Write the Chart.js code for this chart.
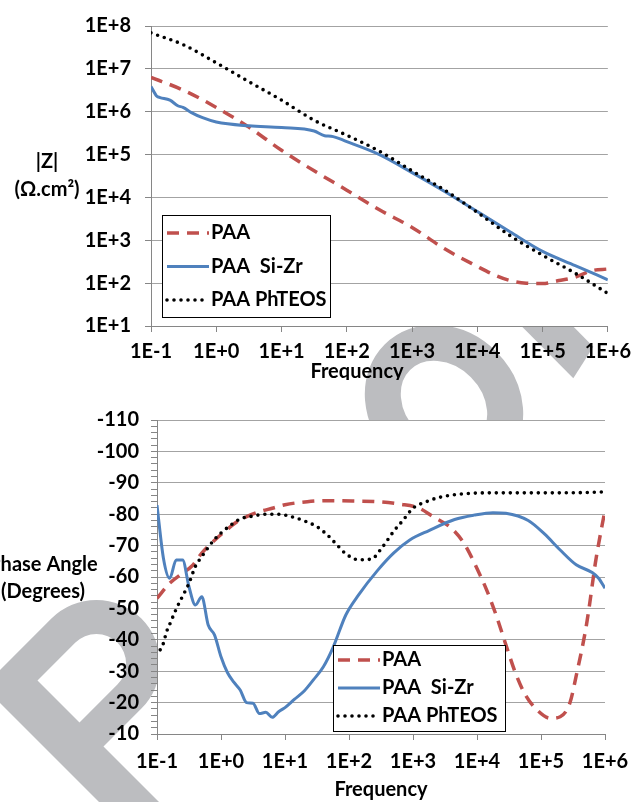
<!DOCTYPE html>
<html>
<head>
<meta charset="utf-8">
<script src="https://cdn.jsdelivr.net/npm/chart.js"></script>
<style>
html, body { margin: 0; padding: 0; background: #fff; }
#page { position: relative; width: 639px; height: 802px; overflow: hidden; }
#mark { position: absolute; left: 0; top: 0; }
#bode { position: absolute; left: 0; top: 0; }
#phase { position: absolute; left: 0; top: 380px; }
</style>
</head>
<body>
<div id="page">
  <svg id="mark" width="639" height="802">
    <g fill="#bcbdc0" fill-rule="evenodd">
      <path d="M -16.5 686.5 L 51.4 618.6 A 63.6 63.6 0 0 1 141.4 618.6 A 63.6 63.6 0 0 1 141.4 708.6 L 103.5 746.5 L 260 903 L 200 903 Z M 37.5 680.5 L 75.4 642.6 A 29.7 29.7 0 0 1 117.4 642.6 A 29.7 29.7 0 0 1 117.4 684.6 L 79.5 722.5 Z"/>
      <path d="M 479.7 284 L 531.3 284 L 593.3 346.7 L 573.3 378.3 Z"/>
    </g>
    <g transform="translate(444 404) rotate(45)">
      <ellipse cx="0" cy="0" rx="66" ry="56" fill="none" stroke="#bcbdc0" stroke-width="36"/>
    </g>
  </svg>
  <canvas id="bode" width="639" height="380"></canvas>
  <canvas id="phase" width="639" height="422"></canvas>
</div>
<script>
// ---- data (frequency in Hz) ----
var freqTicks = [0.1, 1, 10, 100, 1000, 10000, 100000, 1000000];
var freqTickLabels = ['1E-1', '1E+0', '1E+1', '1E+2', '1E+3', '1E+4', '1E+5', '1E+6'];
var zTicks = [10, 100, 1000, 10000, 100000, 1000000, 10000000, 100000000];
var zTickLabels = ['1E+1', '1E+2', '1E+3', '1E+4', '1E+5', '1E+6', '1E+7', '1E+8'];
var phaseTicks = [-110, -100, -90, -80, -70, -60, -50, -40, -30, -20, -10];

// |Z| (ohm.cm2)
var zPaaFreq = [0.1, 0.316, 1, 3.16, 10, 31.6, 100, 316, 1000, 3160, 10000, 17800, 31600, 56200, 100000, 178000, 316000, 562000, 1000000];
var zPaa = [6.31e6, 3.16e6, 1.26e6, 4.37e5, 1.26e5, 4.17e4, 1.48e4, 5130, 2000, 631, 245, 158, 115, 100, 98, 115, 138, 195, 214];

var zSiZrFreq = [0.1, 0.123, 0.138, 0.195, 0.257, 0.309, 0.417, 0.617, 1, 3.16, 10, 31.6, 45.7, 57.5, 100, 316, 1000, 3160, 10000, 31600, 100000, 316000, 1000000];
var zSiZr = [3.89e6, 2.29e6, 2.14e6, 1.86e6, 1.38e6, 1.26e6, 9.55e5, 7.24e5, 5.75e5, 4.68e5, 4.27e5, 3.55e5, 2.75e5, 2.69e5, 2.0e5, 1.0e5, 3.8e4, 1.38e4, 4680, 1580, 550, 257, 120];

var zPhFreq = [0.1, 0.316, 1, 3.16, 10, 31.6, 100, 316, 1000, 3160, 10000, 31600, 100000, 316000, 1000000];
var zPh = [6.92e7, 3.63e7, 1.38e7, 5.01e6, 1.86e6, 6.31e5, 2.82e5, 1.20e5, 4.17e4, 1.48e4, 4470, 1290, 447, 170, 57.5];

// phase angle (degrees)
var pPaaFreq = [0.1, 0.158, 0.251, 0.355, 0.501, 0.794, 1.259, 1.778, 2.512, 3.981, 6.31, 10, 22.39, 44.67, 112.2, 281.8, 631, 1259, 1995, 3981, 6310, 10000, 14125, 19950, 28180, 39810, 56230, 89130, 141300, 199500, 281800, 354800, 501200, 562300, 707900, 794300, 1000000];
var pPaa = [-53.2, -58.0, -61.2, -63.6, -67.6, -71.7, -75.2, -77.6, -79.2, -80.8, -81.9, -83.0, -84.0, -84.3, -84.2, -84.0, -83.2, -81.9, -79.4, -75.5, -70.6, -62.7, -55.9, -47.8, -38.5, -29.5, -22.7, -17.4, -15.0, -15.5, -19.8, -28.5, -43.5, -50.0, -64.5, -70.5, -81.3];

var pSiZrFreq = [0.1, 0.126, 0.158, 0.1995, 0.251, 0.316, 0.398, 0.501, 0.631, 0.794, 1, 1.259, 1.585, 1.995, 2.512, 3.162, 3.981, 5.012, 6.31, 7.943, 10, 14.13, 19.95, 28.18, 39.81, 56.23, 89.13, 141.3, 281.8, 501.2, 891.3, 1778, 4467, 8913, 17780, 28180, 63100, 112200, 199500, 354800, 631000, 794300, 1000000];
var pSiZr = [-82.9, -66.0, -59.6, -65.4, -65.4, -56.9, -51.1, -53.7, -44.7, -41.5, -34.6, -29.6, -26.5, -24.0, -20.0, -19.8, -16.5, -16.9, -15.3, -17.1, -18.4, -21.1, -23.7, -27.4, -31.4, -37.5, -47.9, -54.3, -62.2, -67.7, -71.8, -74.8, -78.3, -79.7, -80.5, -80.3, -78.0, -73.8, -68.6, -63.9, -61.4, -59.6, -56.4];

var pPhFreq = [0.1122, 0.1259, 0.1413, 0.1585, 0.1995, 0.2512, 0.3162, 0.3981, 0.5012, 0.631, 0.794, 1, 1.413, 1.995, 3.162, 5.012, 7.943, 12.59, 19.95, 31.62, 44.67, 63.1, 89.13, 141.3, 223.9, 316.2, 501.2, 707.9, 1000, 1585, 2512, 5623, 14130, 50120, 158500, 501200, 1000000];
var pPh = [-36.8, -38.9, -42.6, -45.0, -49.8, -53.9, -58.0, -63.4, -66.5, -69.4, -72.0, -74.0, -76.5, -78.5, -79.4, -80.0, -80.0, -79.2, -77.9, -76.0, -73.6, -70.5, -67.4, -65.5, -65.7, -68.9, -74.6, -78.2, -81.9, -83.9, -85.3, -86.4, -86.8, -86.8, -86.8, -86.9, -87.1];

// ---- styles ----
var FONT = 'bold 20px Lato';
var GRID = '#a3a3a3';
var AXIS = '#868686';
Chart.defaults.font.family = 'Lato';
Chart.defaults.font.size = 20;
Chart.defaults.font.weight = 'bold';
Chart.defaults.color = '#000';

function pts(xs, ys) {
    return xs.map(function (x, i) { return { x: x, y: ys[i] }; });
}

function series(label, xs, ys, kind) {
    var ds = {
        label: label,
        data: pts(xs, ys),
        fill: false,
        pointRadius: 0,
        cubicInterpolationMode: 'monotone',
        borderWidth: 3
    };
    if (kind === 'dash') {
        ds.borderColor = '#c0504d';
        ds.borderDash = [12, 8];
        ds.borderWidth = 3.5;
        ds.order = 3;
    } else if (kind === 'solid') {
        ds.borderColor = '#4f81bd';
        ds.order = 2;
    } else {
        ds.borderColor = '#000000';
        ds.borderDash = [0, 7];
        ds.borderWidth = 3.6;
        ds.borderCapStyle = 'round';
        ds.order = 1;
    }
    return ds;
}

var plotBg = {
    id: 'plotBg',
    beforeDraw: function (chart) {
        var a = chart.chartArea, ctx = chart.ctx;
        ctx.save();
        ctx.fillStyle = '#fff';
        ctx.fillRect(a.left, a.top, a.right - a.left, a.bottom - a.top);
        ctx.restore();
    }
};

var boxLegend = {
    id: 'boxLegend',
    afterDatasetsDraw: function (chart, args, o) {
        var ctx = chart.ctx;
        ctx.save();
        ctx.fillStyle = '#fff';
        ctx.fillRect(o.x, o.y, o.w, o.h);
        ctx.strokeStyle = '#000';
        ctx.lineWidth = 1;
        ctx.strokeRect(o.x + 0.5, o.y + 0.5, o.w, o.h);
        ctx.font = FONT;
        ctx.textBaseline = 'middle';
        chart.data.datasets.forEach(function (ds, i) {
            var y = o.y + o.first + i * o.step;
            ctx.beginPath();
            ctx.strokeStyle = ds.borderColor;
            ctx.lineWidth = ds.borderWidth;
            ctx.setLineDash(ds.borderDash || []);
            ctx.lineCap = ds.borderCapStyle || 'butt';
            ctx.moveTo(o.x + 5, y);
            ctx.lineTo(o.x + 5 + o.sample, y);
            ctx.stroke();
            ctx.fillStyle = '#000';
            ctx.fillText(ds.label, o.x + 7 + o.sample, y);
        });
        ctx.restore();
    }
};

var axisTitles = {
    id: 'axisTitles',
    afterDraw: function (chart, args, o) {
        var ctx = chart.ctx;
        ctx.save();
        ctx.font = FONT;
        ctx.fillStyle = '#000';
        ctx.textAlign = 'center';
        ctx.textBaseline = 'middle';
        o.items.forEach(function (t) { ctx.fillText(t.text, t.x, t.y); });
        ctx.restore();
    }
};

function freqAxis(height, pad) {
    return {
        type: 'logarithmic',
        min: 0.1,
        max: 1000000,
        afterBuildTicks: function (axis) {
            axis.ticks = freqTicks.map(function (v) { return { value: v }; });
        },
        afterFit: function (scale) { scale.height = height; },
        ticks: {
            autoSkip: false,
            maxRotation: 0,
            padding: pad,
            callback: function (v, i) { return freqTickLabels[i]; }
        },
        grid: { drawOnChartArea: false, tickLength: 6, tickColor: AXIS },
        border: { color: AXIS, width: 1 }
    };
}

// ---- top chart: |Z| ----
new Chart('bode', {
    type: 'line',
    data: {
        datasets: [
            series('PAA', zPaaFreq, zPaa, 'dash'),
            series('PAA  Si-Zr', zSiZrFreq, zSiZr, 'solid'),
            series('PAA PhTEOS', zPhFreq, zPh, 'dot')
        ]
    },
    options: {
        responsive: false,
        animation: false,
        layout: { padding: { top: 18, right: 25, bottom: 0, left: 0 } },
        scales: {
            x: freqAxis(54, 8),
            y: {
                type: 'logarithmic',
                min: 10,
                max: 100000000,
                afterBuildTicks: function (axis) {
                    axis.ticks = zTicks.map(function (v) { return { value: v }; });
                },
                afterFit: function (scale) { scale.width = 151; },
                ticks: {
                    autoSkip: false,
                    padding: 14,
                    callback: function (v, i) { return zTickLabels[i]; }
                },
                grid: { color: GRID, tickLength: 6, tickColor: AXIS },
                border: { color: AXIS, width: 1 }
            }
        },
        plugins: {
            legend: { display: false },
            tooltip: { enabled: false },
            boxLegend: { x: 162, y: 215, w: 168, h: 102, first: 18, step: 33.5, sample: 42 },
            axisTitles: {
                items: [
                    { text: 'Frequency', x: 357, y: 372 },
                    { text: '|Z|', x: 47, y: 162 },
                    { text: '(\u03A9.cm\u00B2)', x: 47, y: 190 }
                ]
            }
        }
    },
    plugins: [plotBg, boxLegend, axisTitles]
});

// ---- bottom chart: phase angle ----
new Chart('phase', {
    type: 'line',
    data: {
        datasets: [
            series('PAA', pPaaFreq, pPaa, 'dash'),
            series('PAA  Si-Zr', pSiZrFreq, pSiZr, 'solid'),
            series('PAA PhTEOS', pPhFreq, pPh, 'dot')
        ]
    },
    options: {
        responsive: false,
        animation: false,
        layout: { padding: { top: 40, right: 34, bottom: 0, left: 0 } },
        scales: {
            x: freqAxis(68, 10),
            y: {
                type: 'linear',
                min: -110,
                max: -10,
                reverse: true,
                afterFit: function (scale) { scale.width = 157; },
                ticks: {
                    stepSize: 2,
                    autoSkip: false,
                    padding: 12,
                    callback: function (v) { return phaseTicks.indexOf(v) >= 0 ? String(v) : ''; }
                },
                grid: {
                    color: function (c) {
                        return c.tick && phaseTicks.indexOf(c.tick.value) >= 0 ? GRID : 'rgba(0,0,0,0)';
                    },
                    tickLength: 6,
                    tickColor: AXIS
                },
                border: { color: AXIS, width: 1 }
            }
        },
        plugins: {
            legend: { display: false },
            tooltip: { enabled: false },
            boxLegend: { x: 333, y: 265, w: 172, h: 86, first: 15, step: 28, sample: 42 },
            axisTitles: {
                items: [
                    { text: 'Frequency', x: 381, y: 410 },
                    { text: 'Phase Angle', x: 43, y: 185 },
                    { text: '(Degrees)', x: 43, y: 212 }
                ]
            }
        }
    },
    plugins: [plotBg, boxLegend, axisTitles]
});
</script>
</body>
</html>
